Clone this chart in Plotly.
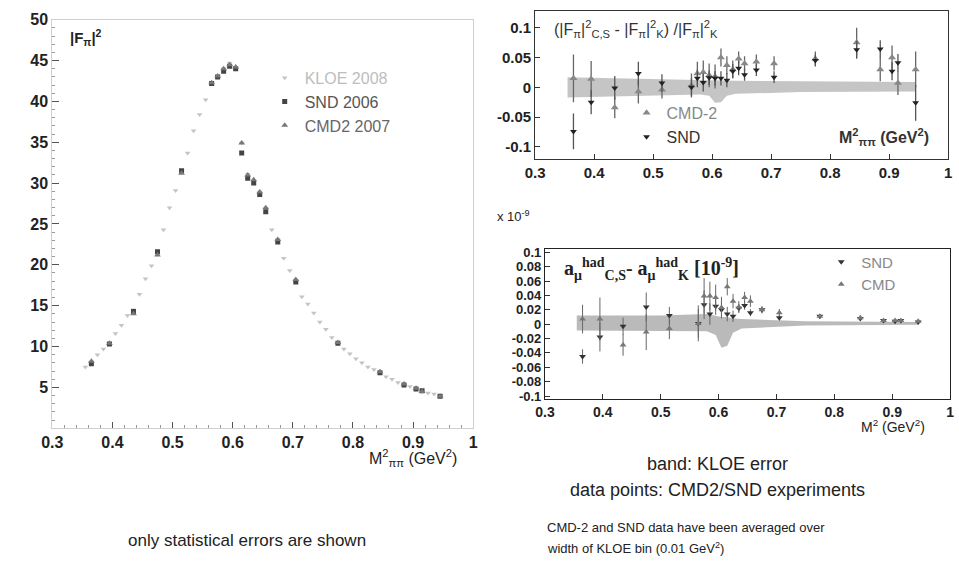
import plotly.graph_objects as go

# KLOE 2008 bin centres and |F_pi|^2 values
kloe_x = [0.355, 0.365, 0.375, 0.385, 0.395, 0.405, 0.415, 0.425, 0.435, 0.445,
          0.455, 0.465, 0.475, 0.485, 0.495, 0.505, 0.515, 0.525, 0.535, 0.545,
          0.555, 0.565, 0.575, 0.585, 0.595, 0.605, 0.615, 0.625, 0.635, 0.645,
          0.655, 0.665, 0.675, 0.685, 0.695, 0.705, 0.715, 0.725, 0.735, 0.745,
          0.755, 0.765, 0.775, 0.785, 0.795, 0.805, 0.815, 0.825, 0.835, 0.845,
          0.855, 0.865, 0.875, 0.885, 0.895, 0.905, 0.915, 0.925, 0.935, 0.945]
kloe_ff = [7.5, 8.1, 9.0, 9.7, 10.4, 11.6, 12.6, 13.8, 14.5, 16.4,
           18.3, 19.9, 21.3, 24.3, 27.0, 29.1, 31.5, 33.7, 36.4, 38.4,
           40.2, 42.2, 43.1, 44.0, 44.7, 44.0, 34.9, 31.1, 30.3, 28.9,
           26.9, 24.3, 23.1, 20.8, 19.3, 18.0, 16.1, 15.2, 14.1, 13.0,
           12.1, 11.1, 10.4, 9.7, 9.1, 8.5, 8.0, 7.5, 7.2, 6.8,
           6.3, 6.0, 5.6, 5.3, 5.1, 4.8, 4.5, 4.3, 4.2, 3.9]

# CMD-2 / SND points averaged over the KLOE bins
pts_x = [0.365, 0.395, 0.435, 0.475, 0.515, 0.565, 0.575, 0.585, 0.595, 0.605, 0.615, 0.625,
         0.635, 0.645, 0.655, 0.675, 0.705, 0.775, 0.845, 0.885, 0.905, 0.915, 0.945]
snd_ff = [7.9, 10.3, 14.3, 21.6, 31.5, 42.2, 43.0, 43.7, 44.3, 44.0, 33.7, 30.6,
          30.0, 28.6, 26.5, 22.8, 17.9, 10.4, 6.8, 5.3, 4.8, 4.6, 3.9]
cmd_ff = [8.2, 10.4, 14.0, 21.2, 31.2, 42.3, 43.1, 44.0, 44.5, 44.2, 34.9, 31.0,
          30.4, 28.9, 27.0, 23.1, 18.2, 10.5, 6.9, 5.4, 4.9, 4.5, 3.9]

# relative difference (top right)
cmd_rel = [0.015, 0.014, -0.034, -0.007, -0.004, 0.003, 0.023, 0.025, 0.020, 0.018, 0.050, 0.037,
           0.030, 0.048, 0.040, 0.043, 0.040, 0.048, 0.075, 0.030, 0.050, 0.007, 0.030]
cmd_rel_err = [0.040, 0.030, 0.018, 0.020, 0.015, 0.020, 0.020, 0.020, 0.020, 0.020, 0.015, 0.015,
               0.015, 0.012, 0.012, 0.012, 0.012, 0.012, 0.025, 0.020, 0.020, 0.020, 0.030]
snd_rel = [-0.074, -0.025, -0.001, 0.023, 0.007, 0.000, 0.015, 0.008, 0.016, 0.015, 0.015, 0.012,
           0.027, 0.032, 0.021, 0.029, 0.017, 0.045, 0.063, 0.064, 0.027, 0.041, -0.026]
snd_rel_err = [0.030, 0.020, 0.020, 0.020, 0.015, 0.015, 0.015, 0.015, 0.012, 0.012, 0.012, 0.012,
               0.012, 0.012, 0.010, 0.010, 0.010, 0.010, 0.015, 0.015, 0.015, 0.015, 0.030]

# a_mu difference in units of 1e-9 (bottom right)
cmd_amu = [0.007, 0.007, -0.029, -0.011, -0.006, 0.001, 0.039, 0.039, 0.037, 0.023, 0.052, 0.032,
           0.024, 0.037, 0.032, 0.020, 0.016, 0.011, 0.009, 0.005, 0.005, 0.005, 0.004]
cmd_amu_err = [0.020, 0.030, 0.015, 0.025, 0.015, 0.025, 0.025, 0.020, 0.018, 0.015, 0.012, 0.010,
               0.008, 0.008, 0.008, 0.005, 0.005, 0.003, 0.003, 0.002, 0.002, 0.002, 0.002]
snd_amu = [-0.045, -0.018, -0.003, 0.024, 0.012, 0.001, 0.027, 0.014, 0.025, 0.020, 0.014, 0.011,
           0.022, 0.026, 0.016, 0.020, 0.009, 0.011, 0.008, 0.005, 0.004, 0.005, 0.003]
snd_amu_err = [0.010, 0.020, 0.012, 0.020, 0.012, 0.020, 0.020, 0.015, 0.012, 0.010, 0.010, 0.008,
               0.006, 0.006, 0.005, 0.004, 0.004, 0.003, 0.003, 0.002, 0.002, 0.002, 0.002]

# KLOE error bands
band_x = [0.355, 0.40, 0.50, 0.58, 0.595, 0.605, 0.615, 0.625, 0.64, 0.75, 0.945]
rel_hi = [0.017, 0.016, 0.013, 0.012, 0.012, 0.012, 0.012, 0.012, 0.011, 0.010, 0.009]
rel_lo = [-0.017, -0.016, -0.013, -0.012, -0.014, -0.026, -0.025, -0.014, -0.011, -0.008, -0.007]
amu_hi = [0.012, 0.012, 0.012, 0.014, 0.012, 0.010, 0.010, 0.008, 0.007, 0.004, 0.003]
amu_lo = [-0.009, -0.009, -0.009, -0.010, -0.015, -0.033, -0.030, -0.012, -0.006, -0.002, -0.001]

W, H = 959, 571
def dx(a, b):
    return [a / W, b / W]
def dy(top, bot):
    return [1 - bot / H, 1 - top / H]

fig = go.Figure()

# ---- left panel
fig.add_trace(go.Scatter(x=kloe_x, y=kloe_ff, mode="markers", name="<span style='color:#bdbdbd'>KLOE 2008</span>",
                         marker=dict(symbol="triangle-down", size=5, color="#c4c4c4"), legend="legend"))
fig.add_trace(go.Scatter(x=pts_x, y=snd_ff, mode="markers", name="<span style='color:#555'>SND 2006</span>",
                         marker=dict(symbol="square", size=5, color="#444"), legend="legend"))
fig.add_trace(go.Scatter(x=pts_x, y=cmd_ff, mode="markers", name="<span style='color:#666'>CMD2 2007</span>",
                         marker=dict(symbol="triangle-up", size=6, color="#777"), legend="legend"))

# ---- top right
fig.add_trace(go.Scatter(x=band_x, y=rel_hi, mode="lines", line=dict(width=0), showlegend=False,
                         xaxis="x2", yaxis="y2", hoverinfo="skip"))
fig.add_trace(go.Scatter(x=band_x, y=rel_lo, mode="lines", line=dict(width=0), fill="tonexty",
                         fillcolor="rgba(150,150,150,0.55)", showlegend=False, xaxis="x2", yaxis="y2",
                         hoverinfo="skip"))
fig.add_trace(go.Scatter(x=pts_x, y=cmd_rel, mode="markers", name="<span style='color:#888'>CMD-2</span>",
                         error_y=dict(type="data", array=cmd_rel_err, color="#666", width=0, thickness=1.3),
                         marker=dict(symbol="triangle-up", size=7, color="#888"),
                         xaxis="x2", yaxis="y2", legend="legend2"))
fig.add_trace(go.Scatter(x=pts_x, y=snd_rel, mode="markers", name="<span style='color:#333'>SND</span>",
                         error_y=dict(type="data", array=snd_rel_err, color="#555", width=0, thickness=1.3),
                         marker=dict(symbol="triangle-down", size=6, color="#222"),
                         xaxis="x2", yaxis="y2", legend="legend2"))

# ---- bottom right
fig.add_trace(go.Scatter(x=band_x, y=amu_hi, mode="lines", line=dict(width=0), showlegend=False,
                         xaxis="x3", yaxis="y3", hoverinfo="skip"))
fig.add_trace(go.Scatter(x=band_x, y=amu_lo, mode="lines", line=dict(width=0), fill="tonexty",
                         fillcolor="rgba(140,140,140,0.6)", showlegend=False, xaxis="x3", yaxis="y3",
                         hoverinfo="skip"))
fig.add_trace(go.Scatter(x=pts_x, y=snd_amu, mode="markers", name="<span style='color:#888'>SND</span>",
                         error_y=dict(type="data", array=snd_amu_err, color="#666", width=0, thickness=1),
                         marker=dict(symbol="triangle-down", size=6, color="#333"),
                         xaxis="x3", yaxis="y3", legend="legend3"))
fig.add_trace(go.Scatter(x=pts_x, y=cmd_amu, mode="markers", name="<span style='color:#888'>CMD</span>",
                         error_y=dict(type="data", array=cmd_amu_err, color="#666", width=0, thickness=1),
                         marker=dict(symbol="triangle-up", size=6, color="#777"),
                         xaxis="x3", yaxis="y3", legend="legend3"))

tickfont = dict(family="Liberation Sans, Arial", size=16, color="#222", weight="bold")
x_vals = [0.3, 0.4, 0.5, 0.6, 0.7, 0.8, 0.9, 1.0]
x_text = ["0.3", "0.4", "0.5", "0.6", "0.7", "0.8", "0.9", "1"]
ax_common = dict(showgrid=False, zeroline=False, showline=True, mirror=True, ticks="inside")

fig.update_layout(
    width=W, height=H, margin=dict(l=0, r=0, t=0, b=0),
    paper_bgcolor="white", plot_bgcolor="white",
    font=dict(family="Liberation Sans, Arial", color="#222"),
    xaxis=dict(domain=dx(42, 470), range=[0.3, 1.0], tickvals=x_vals, ticktext=x_text,
               tickfont=tickfont, linecolor="#cfcfcf", tickcolor="#555", ticklen=6,
               minor=dict(dtick=0.02, ticklen=3, tickcolor="#999", ticks="inside"), **ax_common),
    yaxis=dict(domain=dy(12, 430), range=[0, 50], tickvals=[5, 10, 15, 20, 25, 30, 35, 40, 45, 50],
               tickfont=tickfont, linecolor="#cfcfcf", tickcolor="#555", ticklen=7,
               minor=dict(dtick=1, ticklen=3, tickcolor="#999", ticks="inside"), **ax_common),
    xaxis2=dict(domain=dx(533, 953), range=[0.3, 1.0], tickvals=x_vals, ticktext=x_text, anchor="y2",
                tickfont=dict(tickfont, size=15), linecolor="#333", tickcolor="#333", ticklen=5, **ax_common),
    yaxis2=dict(domain=dy(3, 155), range=[-0.121, 0.128], anchor="x2",
                tickvals=[-0.1, -0.05, 0, 0.05, 0.1], ticktext=["-0.1", "-0.05", "0", "0.05", "0.1"],
                tickfont=dict(tickfont, size=15), linecolor="#333", tickcolor="#333", ticklen=5, **ax_common),
    xaxis3=dict(domain=dx(543, 955), range=[0.3, 1.0], tickvals=x_vals, ticktext=x_text, anchor="y3",
                tickfont=dict(tickfont, size=14), linecolor="#222", tickcolor="#333", ticklen=5, **ax_common),
    yaxis3=dict(domain=dy(247, 400), range=[-0.104, 0.104], anchor="x3",
                tickvals=[-0.1, -0.08, -0.06, -0.04, -0.02, 0, 0.02, 0.04, 0.06, 0.08, 0.1],
                ticktext=["-0.1", "-0.08", "-0.06", "-0.04", "-0.02", "0", "0.02", "0.04", "0.06", "0.08", "0.1"],
                tickfont=dict(tickfont, size=13), linecolor="#222", tickcolor="#333", ticklen=5, **ax_common),
    legend=dict(x=258 / W, y=1 - 54 / H, xanchor="left", yanchor="top", bgcolor="rgba(0,0,0,0)",
                font=dict(size=16, color="#666"), itemwidth=30, traceorder="normal"),
    legend2=dict(x=626 / W, y=1 - 90 / H, xanchor="left", yanchor="top", bgcolor="rgba(0,0,0,0)",
                 font=dict(size=16, color="#555"), itemwidth=30, traceorder="normal"),
    legend3=dict(x=824 / W, y=1 - 243 / H, xanchor="left", yanchor="top", bgcolor="rgba(0,0,0,0)",
                 font=dict(size=15, color="#888"), itemwidth=30, traceorder="normal"),
)

def note(text, x, y, size=14, xanchor="left", color="#222", family="Liberation Sans, Arial", weight="normal"):
    fig.add_annotation(text=text, x=x / W, y=1 - y / H, xref="paper", yref="paper", showarrow=False,
                       xanchor=xanchor, yanchor="middle",
                       font=dict(size=size, color=color, family=family, weight=weight))

note("|F<sub>π</sub>|<sup>2</sup>", 58, 30, size=15, weight="bold")
note("M<sup>2</sup><sub>ππ</sub> (GeV<sup>2</sup>)", 362, 460, size=16)
note("(|F<sub>π</sub>|<sup>2</sup><sub>C,S</sub> - |F<sub>π</sub>|<sup>2</sup><sub>K</sub>) /|F<sub>π</sub>|<sup>2</sup><sub>K</sub>",
     550, 22, size=16, color="#333")
note("M<sup>2</sup><sub>ππ</sub> (GeV<sup>2</sup>)", 840, 132, size=16, weight="bold", color="#333")
note("x 10<sup>-9</sup>", 492, 213, size=13)
note("a<sub>μ</sub><sup>had</sup><sub>C,S</sub>- a<sub>μ</sub><sup>had</sup><sub>K</sub> [10<sup>-9</sup>]",
     560, 267, size=20, family="Liberation Serif, Times New Roman", weight="bold")
note("M<sup>2</sup> (GeV<sup>2</sup>)", 862, 428, size=14)
note("band: KLOE error", 718, 467, size=18, xanchor="center")
note("data points: CMD2/SND experiments", 718, 493, size=18, xanchor="center")
note("CMD-2 and SND data have been averaged over", 543, 532, size=13)
note("width of KLOE bin (0.01 GeV<sup>2</sup>)", 543, 553, size=13)
note("only statistical errors are shown", 240, 545, size=17, xanchor="center")

fig.write_html("out.html", config={"displayModeBar": False},
               post_script="document.body.style.margin='0';")
